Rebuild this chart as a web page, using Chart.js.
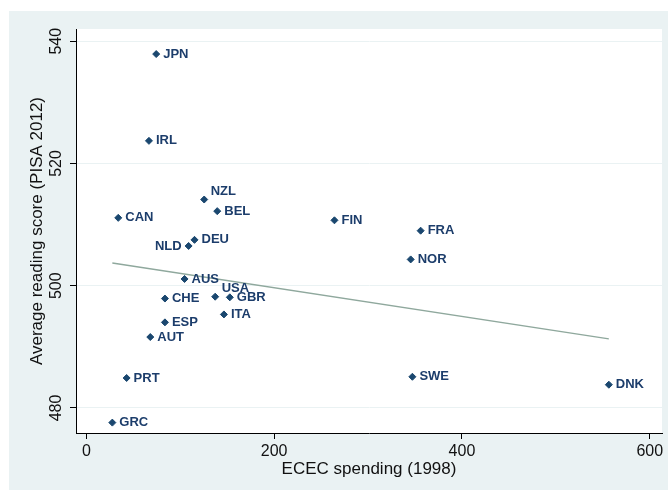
<!DOCTYPE html>
<html><head><meta charset="utf-8">
<script src="https://cdn.jsdelivr.net/npm/chart.js@4.4.1/dist/chart.umd.min.js"></script>
<style>html,body{margin:0;padding:0;background:#fff;} canvas{display:block;}</style>
</head><body>
<canvas id="c" width="668" height="490"></canvas>
<script>
const countries = ['JPN','IRL','NZL','BEL','CAN','DEU','NLD','AUS','CHE','USA','GBR','ITA','ESP','AUT','PRT','GRC','FIN','FRA','NOR','SWE','DNK'];
const spending = [74.4,66.7,125.5,139.4,34,115.2,108.9,104.6,83.7,137.2,152.8,146.5,83.7,68.1,42.9,27.7,264.2,356,345.4,347.2,556.4];
const reading = [537.9,523.7,514.1,512.2,511.1,507.5,506.5,501.1,497.9,498.2,498.1,495.3,494.0,491.6,484.9,477.6,510.7,509.0,504.3,485.1,483.8];
const labelClock = [3,3,1,3,3,3,9,3,3,1,3,3,3,3,3,3,3,3,3,3,3];
const fitX = [27.7, 556.4];
const fitY = [503.7, 491.3];
const xTicks = [0,200,400,600];
const yTicks = [480,500,520,540];
const xTitle = 'ECEC spending (1998)';
const yTitle = 'Average reading score (PISA 2012)';

const FONT = '"Liberation Sans", Arial, sans-serif';
const PANEL = '#eaf2f3';
const NAVY = '#1a476f';

const bgPlugin = {
  id: 'bg',
  beforeDraw(chart) {
    const {ctx, chartArea: a, width, height} = chart;
    ctx.save();
    ctx.fillStyle = '#fff';
    ctx.fillRect(0, 0, width, height);
    ctx.fillStyle = PANEL;
    ctx.fillRect(9, 11, width - 9, height - 11);
    ctx.fillStyle = '#fff';
    ctx.fillRect(a.left, a.top, a.right - a.left, a.bottom - a.top);
    ctx.restore();
  }
};

const labelPlugin = {
  id: 'labels',
  afterDatasetsDraw(chart) {
    const {ctx} = chart;
    const meta = chart.getDatasetMeta(0);
    ctx.save();
    ctx.font = 'bold 13px ' + FONT;
    ctx.fillStyle = '#1c3d6b';
    ctx.textBaseline = 'middle';
    meta.data.forEach((pt, i) => {
      const c = labelClock[i];
      let x = pt.x, y = pt.y;
      if (c === 9) { ctx.textAlign = 'right'; x -= 7; }
      else if (c === 1) { ctx.textAlign = 'left'; x += 6.5; y -= 8; }
      else { ctx.textAlign = 'left'; x += 7; }
      ctx.fillText(countries[i], x, y);
    });
    ctx.restore();
  }
};

new Chart(document.getElementById('c'), {
  data: {
    datasets: [
      {
        type: 'scatter',
        data: spending.map((v, i) => ({x: v, y: reading[i]})),
        pointStyle: 'rectRot',
        pointRadius: 3.5,
        pointBackgroundColor: NAVY,
        pointBorderColor: NAVY,
        pointBorderWidth: 1,
        order: 1
      },
      {
        type: 'line',
        data: fitX.map((v, i) => ({x: v, y: fitY[i]})),
        borderColor: '#8fa89d',
        borderWidth: 1.5,
        pointRadius: 0,
        fill: false,
        order: 2
      }
    ]
  },
  options: {
    responsive: false,
    animation: false,
    devicePixelRatio: 1,
    layout: {padding: {left: 9, top: 29, right: 6, bottom: 0}},
    plugins: {legend: {display: false}, tooltip: {enabled: false}},
    scales: {
      x: {
        type: 'linear',
        min: -11, max: 613,
        afterBuildTicks: s => { s.ticks = xTicks.map(v => ({value: v})); },
        afterFit: s => { s.height = 57; },
        grid: {drawOnChartArea: false, tickLength: 6, tickColor: '#000', tickWidth: 1},
        border: {display: true, color: '#000', width: 1},
        ticks: {color: '#111', font: {family: FONT, size: 16}, padding: 3, maxRotation: 0, callback: v => String(v)},
        title: {display: true, text: xTitle, color: '#111', font: {family: FONT, size: 17}, padding: {top: 0, bottom: 10}}
      },
      y: {
        type: 'linear',
        min: 475.9, max: 542,
        afterBuildTicks: s => { s.ticks = yTicks.map(v => ({value: v})); },
        afterFit: s => { s.width = 67; },
        grid: {color: PANEL, lineWidth: 1, tickLength: 6, tickColor: '#000', tickWidth: 1},
        border: {display: true, color: '#000', width: 1},
        ticks: {color: '#111', font: {family: FONT, size: 16}, padding: 0, minRotation: 90, maxRotation: 90, crossAlign: 'center', callback: v => String(v)},
        title: {display: true, text: yTitle, color: '#111', font: {family: FONT, size: 17}, padding: {top: 18, bottom: 0}}
      }
    }
  },
  plugins: [bgPlugin, labelPlugin]
});
</script>
</body></html>
